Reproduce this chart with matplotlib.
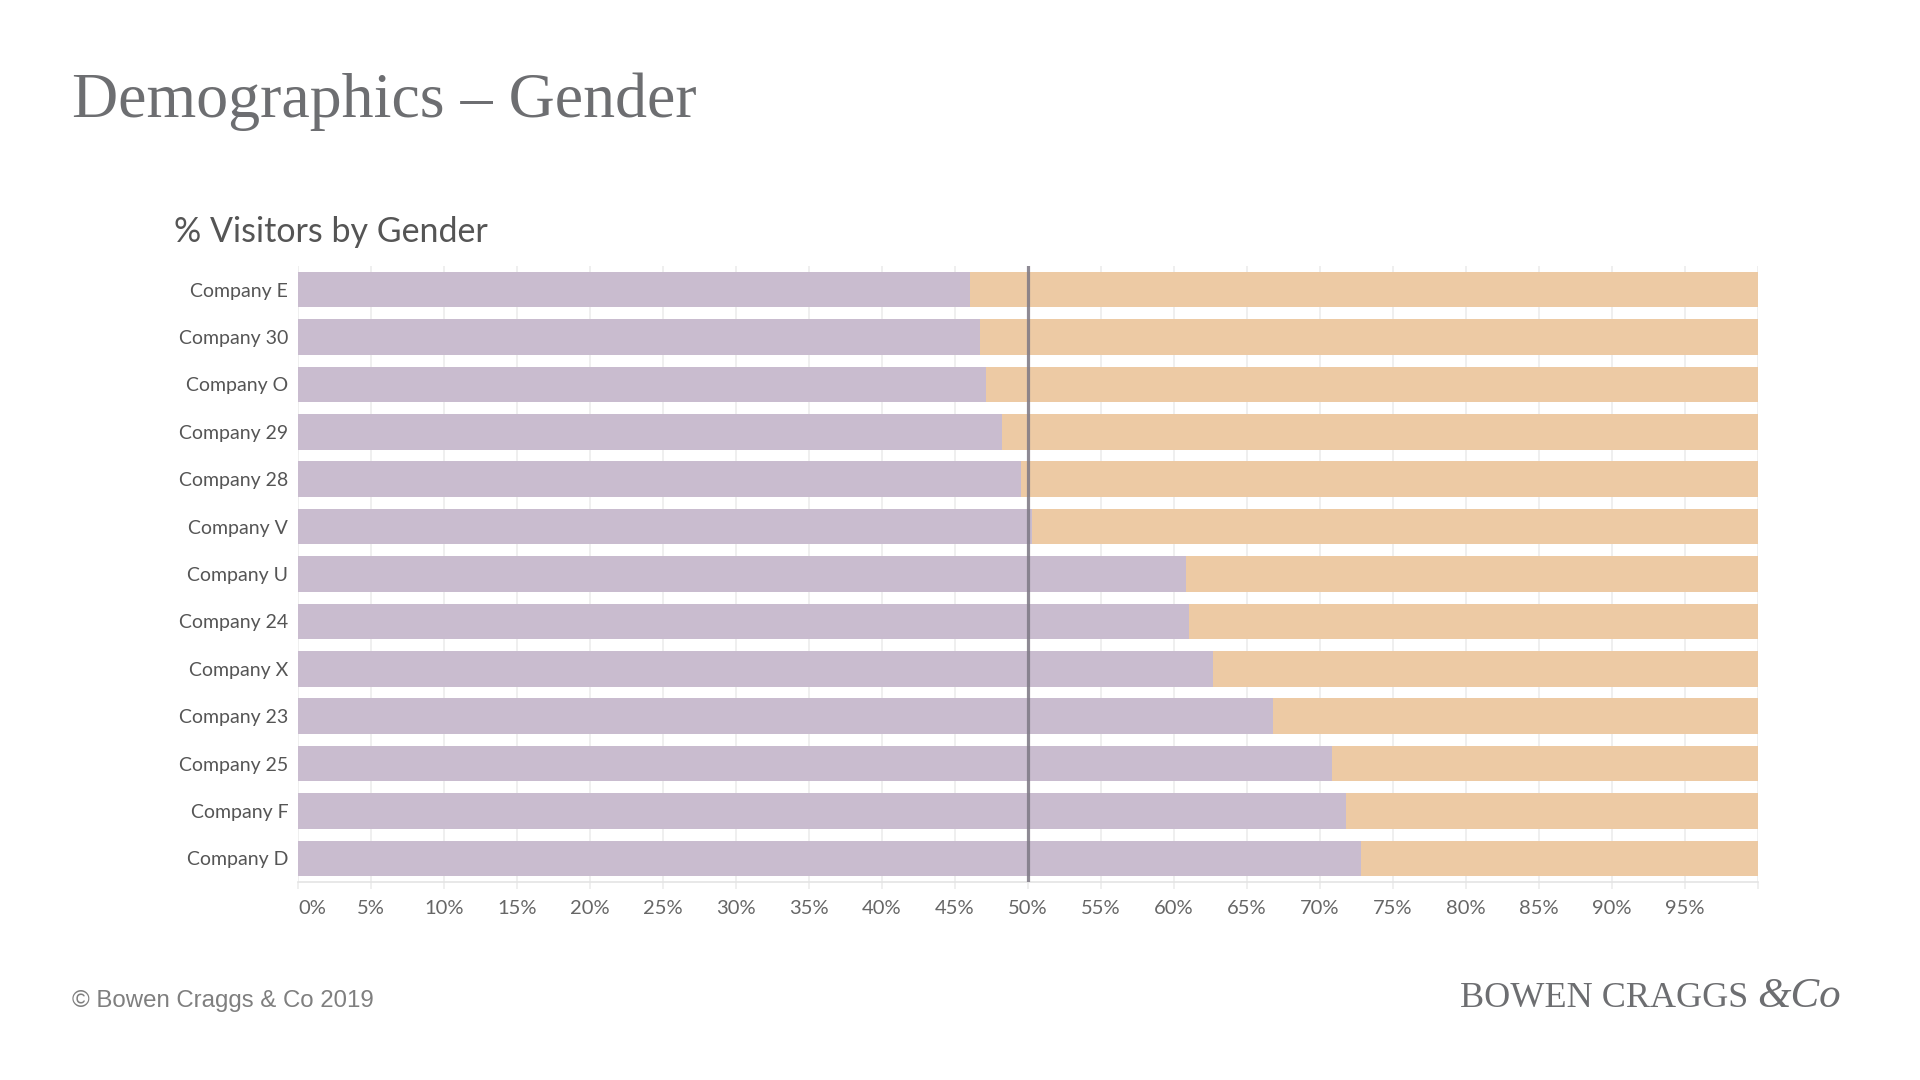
import matplotlib.pyplot as plt

companies = [
    "Company E", "Company 30", "Company O", "Company 29", "Company 28",
    "Company V", "Company U", "Company 24", "Company X", "Company 23",
    "Company 25", "Company F", "Company D",
]
group_a_pct = [46.0, 46.7, 47.1, 48.2, 49.5, 50.3, 60.8, 61.0, 62.7, 66.8, 70.8, 71.8, 72.8]
group_b_pct = [54.0, 53.3, 52.9, 51.8, 50.5, 49.7, 39.2, 39.0, 37.3, 33.2, 29.2, 28.2, 27.2]
x_ticks = list(range(0, 101, 5))
x_tick_labels = [f"{t}%" for t in range(0, 100, 5)] + [""]
reference_pct = 50

PURPLE = "#c9bccf"
ORANGE = "#edcaa4"
GRID = "#ececec"
LABEL = "#666666"


def create_gender_chart():
    fig = plt.figure(figsize=(19.2, 10.8), dpi=100)
    ax = fig.add_axes([0.1552, 0.1833, 0.7604, 0.5704])

    positions = list(range(len(companies)))
    ax.barh(positions, group_a_pct, height=0.75, color=PURPLE, zorder=2)
    ax.barh(positions, group_b_pct, left=group_a_pct, height=0.75, color=ORANGE, zorder=2)
    ax.axvline(reference_pct, color="#7d7884", alpha=0.85, linewidth=2.3, zorder=3)

    ax.set_xlim(0, 100)
    ax.set_ylim(len(companies) - 0.5, -0.5)
    ax.set_yticks(positions)
    ax.set_yticklabels(companies, fontsize=14, color="#555555", fontfamily="Lato")
    ax.set_xticks(x_ticks)
    ax.set_xticklabels(x_tick_labels, fontsize=14.5, color=LABEL, fontfamily="Lato")
    ax.get_xticklabels()[0].set_horizontalalignment("left")
    ax.tick_params(axis="y", length=0, pad=7)
    ax.tick_params(axis="x", length=5, color=GRID, width=1.2, pad=8)
    ax.grid(axis="x", color=GRID, linewidth=1.2, zorder=0)
    for side in ["top", "right", "left"]:
        ax.spines[side].set_visible(False)
    ax.spines["bottom"].set_color("#e4e4e4")
    ax.spines["bottom"].set_linewidth(1.2)

    fig.text(0.0375, 0.892, "Demographics \u2013 Gender", fontsize=46,
             fontfamily="Liberation Serif", color="#6d6e71", va="baseline")
    fig.text(0.0906, 0.776, "% Visitors by Gender", fontsize=24.5,
             fontfamily="Lato", color="#555555", va="baseline")
    fig.text(0.0373, 0.0675, "\u00a9 Bowen Craggs & Co 2019", fontsize=17.3,
             fontfamily="Liberation Sans", color="#7f7f7f", va="baseline")
    logo = fig.text(0.7605, 0.0675, "BOWEN CRAGGS ", fontsize=26,
                    fontfamily="Liberation Serif", color="#6d6e71", va="baseline")
    fig.canvas.draw()
    bbox = logo.get_window_extent()
    fig.text(bbox.x1 / fig.bbox.width, 0.0675, "&Co", fontsize=31,
             fontfamily="Liberation Serif", style="italic", color="#6d6e71",
             va="baseline")

    fig.savefig("out.png", dpi=100, facecolor="white")
    plt.close(fig)


if __name__ == "__main__":
    create_gender_chart()
